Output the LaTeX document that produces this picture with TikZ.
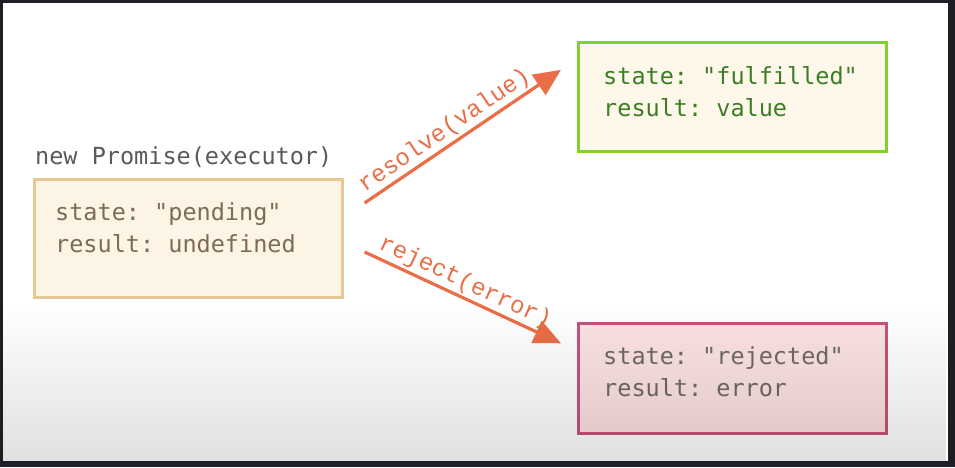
\documentclass[tikz,border=0pt]{standalone}
\usepackage{fontspec}
\setmonofont{DejaVu Sans Mono}
\newfontfamily\labelfont{Liberation Mono}
\usetikzlibrary{arrows.meta,calc,fadings}

\definecolor{frame}{HTML}{1E1F26}
\definecolor{pendfill}{HTML}{FCF5E6}
\definecolor{penddraw}{HTML}{E6C895}
\definecolor{pendtext}{HTML}{7D6B55}
\definecolor{capttext}{HTML}{5A5A5A}
\definecolor{okfill}{HTML}{FDF8EA}
\definecolor{okdraw}{HTML}{82D02C}
\definecolor{oktext}{HTML}{3E7D26}
\definecolor{errfill}{HTML}{FCE2E3}
\definecolor{errdraw}{HTML}{C5537A}
\definecolor{errtext}{HTML}{6F6A66}
\definecolor{flow}{HTML}{EA6E47}

\tikzset{
  statebox/.style={rectangle, line width=2.6pt, inner sep=0pt, anchor=north west},
  statetext/.style={anchor=west, align=left, inner sep=0pt,
    font=\ttfamily\fontsize{23.5}{32}\selectfont},
  flowarrow/.style={draw=flow, line width=3.2pt,
    -{Triangle[length=27pt,width=24pt]}},
  flowlabel/.style={font=\labelfont\fontsize{24}{26}\selectfont, text=flow,
    sloped, above, inner sep=2pt}
}

\begin{document}
\begin{tikzpicture}[x=1pt,y=-1pt]
  % canvas and dark surrounding frame
  \useasboundingbox (0,0) rectangle (955,467);
  \fill[frame] (0,0) rectangle (955,467);
  \fill[white] (3,3) rectangle (948,461);

  % caption above the initial state
  \node[anchor=west, inner sep=0pt, text=capttext,
    font=\ttfamily\fontsize{23.5}{28}\selectfont] (caption) at (35,157)
    {new Promise(executor)};

  % pending state
  \node[statebox, fill=pendfill, draw=penddraw,
    minimum width=308pt, minimum height=118pt] (pending) at (33,178) {};
  \node[statetext, text=pendtext] (pendingtext) at (55,228)
    {state: "pending"\\result: undefined};

  % fulfilled state
  \node[statebox, fill=okfill, draw=okdraw,
    minimum width=308pt, minimum height=109pt] (fulfilled) at (577,41) {};
  \node[statetext, text=oktext] (fulfilledtext) at (603,92)
    {state: "fulfilled"\\result: value};

  % rejected state
  \node[statebox, fill=errfill, draw=errdraw,
    minimum width=308pt, minimum height=110pt] (rejected) at (577,322) {};
  \node[statetext, text=errtext] (rejectedtext) at (603,372)
    {state: "rejected"\\result: error};

  % transitions
  \coordinate (rs) at ($(pending.north east)+(21,25)$);
  \coordinate (re) at ($(fulfilled.west)+(-16,-27)$);
  \coordinate (js) at ($(pending.north east)+(21,74)$);
  \coordinate (je) at ($(rejected.west)+(-16,-35)$);
  \draw[flowarrow] (rs) -- node[flowlabel, pos=0.45] (resolvelabel) {resolve(value)} (re);
  \draw[flowarrow] (js) -- node[flowlabel, pos=0.48] (rejectlabel) {reject(error)} (je);

  % soft grey shade towards the bottom edge
  \fill[black, opacity=0.12, path fading=north] (3,305) rectangle (948,461);
\end{tikzpicture}
\end{document}
